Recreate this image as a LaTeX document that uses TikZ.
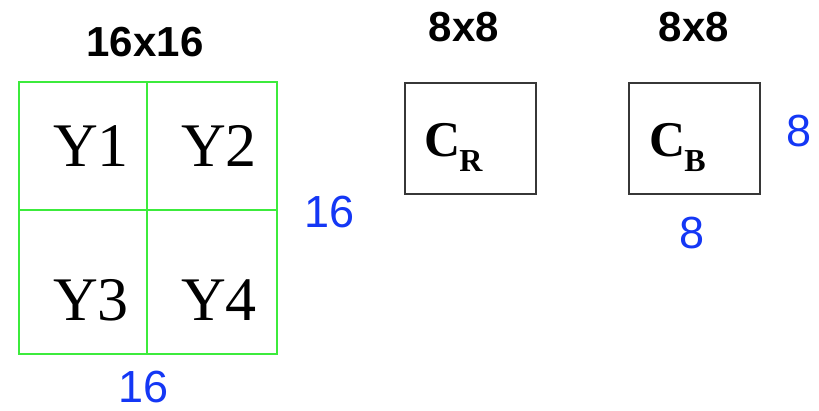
\documentclass[tikz,border=0pt]{standalone}
\usepackage{fontspec}
\setmainfont{Liberation Serif}
\setsansfont{Liberation Sans}
\definecolor{gridgreen}{RGB}{60,235,60}
\definecolor{dimblue}{RGB}{20,55,245}
\definecolor{boxgray}{RGB}{55,55,55}
\begin{document}
\begin{tikzpicture}[x=1pt,y=-1pt,
  cell/.style={draw=gridgreen,line width=1.8pt,inner sep=0pt,anchor=north west},
  ylab/.style={inner sep=0pt,font=\rmfamily\fontsize{62}{62}\selectfont},
  hdr/.style={inner sep=0pt,font=\sffamily\bfseries\fontsize{42}{42}\selectfont},
  dim/.style={inner sep=0pt,text=dimblue,font=\sffamily\fontsize{45}{45}\selectfont},
  cbox/.style={draw=boxgray,line width=1.8pt,inner sep=0pt,anchor=north west,minimum width=131pt,minimum height=111pt},
  clab/.style={inner sep=0pt,anchor=base west,font=\rmfamily\bfseries\fontsize{50}{50}\selectfont}
]
\useasboundingbox (0,0) rectangle (819,411);
% grid
\node[cell,minimum width=128pt,minimum height=128pt] (c1) at (18,81) {};
\node[cell,minimum width=130pt,minimum height=128pt] (c2) at (146,81) {};
\node[cell,minimum width=128pt,minimum height=144pt] (c3) at (18,209) {};
\node[cell,minimum width=130pt,minimum height=144pt] (c4) at (146,209) {};
\node[ylab] (y1) at (91,146) {Y1};
\node[ylab] (y2) at (219,146) {Y2};
\node[ylab] (y3) at (91,300) {Y3};
\node[ylab] (y4) at (219,300) {Y4};
% headers
\node[hdr] (h1) at (145,42) {16x16};
\node[hdr] (h2) at (464,27) {8x8};
\node[hdr] (h3) at (694,27) {8x8};
% chroma boxes
\node[cbox] (cr) at (404,82) {};
\node[cbox] (cb) at (628,82) {};
\node[clab] (crl) at (424,157) {C\kern-1pt\raisebox{-15pt}{\fontsize{32}{32}\selectfont R}};
\node[clab] (cbl) at (649,157) {C\kern-1pt\raisebox{-15pt}{\fontsize{32}{32}\selectfont B}};
% dimensions
\node[dim] (d1) at (330,212) {16};
\node[dim] (d2) at (144,387) {16};
\node[dim] (d3) at (799,131) {8};
\node[dim] (d4) at (692,233) {8};
\end{tikzpicture}
\end{document}
